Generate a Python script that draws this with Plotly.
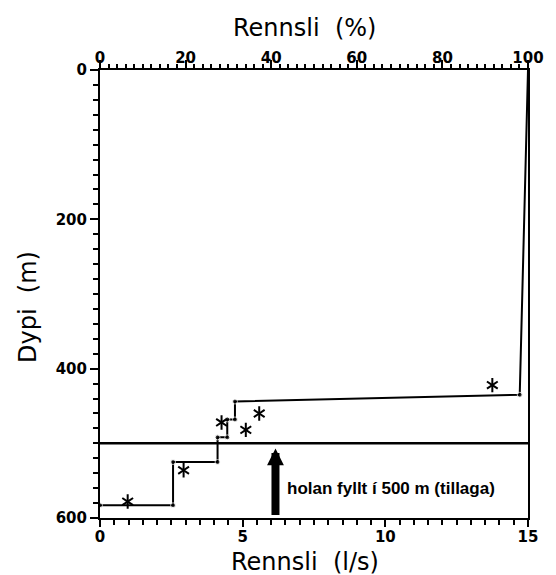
import plotly.graph_objects as go

# Step curve (flow l/s vs depth m)
flow_ls = [0, 2.56, 2.56, 4.12, 4.12, 4.46, 4.46, 4.73, 4.73, 14.71, 15.0]
depth_m = [583, 583, 525, 525, 492, 492, 468, 468, 444, 435, 0]
# Asterisk measurements
star_flow = [0.97, 2.93, 4.26, 5.11, 5.58, 13.75]
star_depth = [578, 536, 472, 482, 460, 422]
# Fill level
fill_depth = 500
fill_label = "holan fyllt í 500 m (tillaga)"
arrow_flow = 6.15
arrow_tip_depth = 507
arrow_base_depth = 598

x_ticks = [0, 5, 10, 15]
pct_ticks = [0, 20, 40, 60, 80, 100]
depth_ticks = [0, 200, 400, 600]

FONT_TICK = dict(family="DejaVu Sans", size=15, color="black", weight="bold")
FONT_TITLE = dict(family="DejaVu Sans", size=24, color="black")

fig = go.Figure()

fig.add_trace(go.Scatter(
    x=[0, 15], y=[fill_depth, fill_depth], mode="lines",
    line=dict(color="black", width=2.5), showlegend=False, hoverinfo="skip"))

marker_sizes = [5] * (len(flow_ls) - 1) + [0]
fig.add_trace(go.Scatter(
    x=flow_ls, y=depth_m, mode="lines+markers",
    line=dict(color="black", width=2),
    marker=dict(color="black", size=marker_sizes),
    showlegend=False))

# six-armed asterisks built from two overlaid Y symbols
for sym in ("y-up-open", "y-down-open"):
    fig.add_trace(go.Scatter(
        x=star_flow, y=star_depth, mode="markers",
        marker=dict(symbol=sym, size=9, color="black",
                    line=dict(color="black", width=2)),
        showlegend=False))

# empty trace to activate top percentage axis
fig.add_trace(go.Scatter(x=[None], y=[None], xaxis="x2", yaxis="y",
                         showlegend=False, hoverinfo="skip"))

fig.add_annotation(
    x=arrow_flow, y=arrow_tip_depth, ax=arrow_flow, ay=arrow_base_depth,
    xref="x", yref="y", axref="x", ayref="y",
    text="", showarrow=True, arrowhead=2, arrowsize=0.42, arrowwidth=8,
    arrowcolor="black")

fig.add_annotation(
    x=6.48, y=560, xref="x", yref="y", text=fill_label, showarrow=False,
    xanchor="left", yanchor="middle",
    font=dict(family="Liberation Sans", size=17, color="black", weight="bold"))

# axis titles
fig.add_annotation(x=0.5, y=0, xref="paper", yref="paper", text="Rennsli  (l/s)",
                   showarrow=False, xanchor="center", yanchor="middle",
                   xshift=-9, yshift=-44, font=FONT_TITLE)
fig.add_annotation(x=0.5, y=1, xref="paper", yref="paper", text="Rennsli  (%)",
                   showarrow=False, xanchor="center", yanchor="middle",
                   xshift=-10, yshift=42, font=FONT_TITLE)
fig.add_annotation(x=0, y=0.5, xref="paper", yref="paper", text="Dypi  (m)",
                   showarrow=False, xanchor="center", yanchor="middle",
                   textangle=-90, xshift=-72, yshift=-13, font=FONT_TITLE)

fig.update_layout(
    width=556, height=575,
    margin=dict(l=100, r=16, t=70, b=57),
    paper_bgcolor="white", plot_bgcolor="white",
    xaxis=dict(range=[0, 15], tickvals=x_ticks, ticks="outside", ticklen=7,
               tickwidth=2, tickcolor="black", showline=True, linewidth=2,
               linecolor="black", showgrid=False, zeroline=False,
               tickfont=FONT_TICK, ticklabelstandoff=-3,
               minor=dict(dtick=0.5, ticks="outside", ticklen=5, tickwidth=2,
                          tickcolor="black", showgrid=False)),
    xaxis2=dict(range=[0, 100], overlaying="x", side="top", anchor="y",
                tickvals=pct_ticks, ticks="outside", ticklen=8, tickwidth=1.5,
                tickcolor="black", showline=True, linewidth=2, linecolor="black",
                showgrid=False, zeroline=False, tickfont=FONT_TICK,
                ticklabelstandoff=-9,
                minor=dict(dtick=2, ticks="outside", ticklen=4, tickwidth=1.5,
                           tickcolor="black", showgrid=False)),
    yaxis=dict(range=[600, 0], tickvals=depth_ticks, ticks="outside", ticklen=8,
               tickwidth=2, tickcolor="black", showline=True, linewidth=2,
               linecolor="black", mirror=True, showgrid=False, zeroline=False,
               tickfont=FONT_TICK,
               minor=dict(dtick=20, ticks="outside", ticklen=5, tickwidth=2,
                          tickcolor="black", showgrid=False)),
)

fig.write_html("out.html")
